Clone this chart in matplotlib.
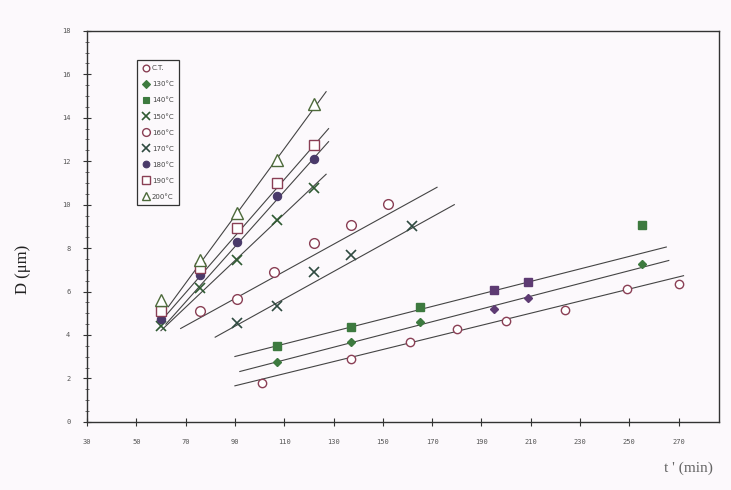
import numpy as np
import matplotlib
matplotlib.use('Agg')
import matplotlib.pyplot as plt
from matplotlib.lines import Line2D

# data: t' (min) vs D (um)
labels = ['C.T.', '130°C', '140°C', '150°C', '160°C', '170°C', '180°C', '190°C', '200°C']

t_ct = [101, 137, 161, 180, 200, 224, 249, 270]
d_ct = [1.81, 2.89, 3.69, 4.27, 4.64, 5.15, 6.14, 6.37]
t_130 = [107, 137, 165, 195, 209, 255]
d_130 = [2.75, 3.66, 4.58, 5.21, 5.71, 7.27]
t_140 = [107, 137, 165, 195, 209, 255]
d_140 = [3.50, 4.39, 5.27, 6.05, 6.45, 9.05]
t_150 = [60, 76, 91, 107, 122]
d_150 = [4.4, 6.16, 7.46, 9.3, 10.77]
t_160 = [76, 91, 106, 122, 137, 152]
d_160 = [5.1, 5.65, 6.9, 8.25, 9.05, 10.05]
t_170 = [91, 107, 122, 137, 162]
d_170 = [4.55, 5.35, 6.9, 7.7, 9.0]
t_180 = [60, 76, 91, 107, 122]
d_180 = [4.75, 6.77, 8.3, 10.38, 12.1]
t_190 = [60, 76, 91, 107, 122]
d_190 = [5.1, 7.1, 8.92, 11.0, 12.76]
t_200 = [60, 76, 91, 107, 122]
d_200 = [5.62, 7.47, 9.62, 12.07, 14.65]

# fitted lines as drawn (start / end points)
fit_t = [[90, 272], [92, 266], [90, 265], [60, 127], [68, 172], [82, 179], [62, 128], [62, 128], [63, 127]]
fit_d = [[1.66, 6.73], [2.32, 7.43], [3.01, 8.05], [4.2, 11.4], [4.3, 10.8], [3.9, 10.0], [4.5, 12.9], [4.9, 13.5], [5.3, 15.2]]

series = [(t_ct, d_ct), (t_130, d_130), (t_140, d_140), (t_150, d_150), (t_160, d_160),
          (t_170, d_170), (t_180, d_180), (t_190, d_190), (t_200, d_200)]

green = '#3d7a3f'
purple = '#5e3b73'
maroon = '#8a3f55'
styles = [
    dict(marker='o', mfc='white', mec=maroon, ms=6, mew=1.0),
    dict(marker='D', mfc=green, mec=green, ms=4.5, mew=0.8),
    dict(marker='s', mfc=green, mec=green, ms=6, mew=0.8),
    dict(marker='x', mfc='none', mec='#2f5a32', ms=7, mew=1.2),
    dict(marker='o', mfc='white', mec=maroon, ms=7, mew=1.0),
    dict(marker='x', mfc='none', mec='#2f4a40', ms=7, mew=1.2),
    dict(marker='o', mfc='#4a3a6a', mec='#4a3a6a', ms=6, mew=0.8),
    dict(marker='s', mfc='white', mec=maroon, ms=7, mew=1.0),
    dict(marker='^', mfc='white', mec='#4d6a3a', ms=8, mew=1.0),
]

bg = '#fcf9fc'
fig = plt.figure(figsize=(7.31, 4.90), dpi=100, facecolor=bg)
ax = fig.add_axes([0.119, 0.139, 0.865, 0.798], facecolor=bg)

for i in range(len(series)):
    ax.plot(fit_t[i], fit_d[i], color='#444444', lw=0.8, zorder=2)

for i, (t, d) in enumerate(series):
    st = dict(styles[i])
    # scan shows later filled points in purple
    if i in (1, 2):
        for x, y in zip(t, d):
            c = green if x < 180 or x > 240 else purple
            ax.plot(x, y, ls='none', marker=st['marker'], ms=st['ms'], mfc=c, mec=c, zorder=3)
    else:
        ax.plot(t, d, ls='none', zorder=3, **st)

ax.set_xlim(30, 286.5)
ax.set_ylim(0, 18)
ax.set_xticks(range(30, 271, 20))
ax.set_yticks(range(0, 19, 2))
ax.set_yticks(np.arange(0, 18, 0.5), minor=True)
ax.tick_params(axis='both', which='major', direction='inout', length=6, width=0.8,
               labelsize=5, labelcolor='#555555', color='#333333', pad=9)
ax.tick_params(axis='y', which='minor', direction='inout', length=2.5, width=0.6, color='#555555')
for lab in ax.get_xticklabels() + ax.get_yticklabels():
    lab.set_family('DejaVu Sans Mono')
for sp in ax.spines.values():
    sp.set_color('#333333')
    sp.set_linewidth(1.0)

fig.text(0.032, 0.45, 'D (μm)', family='Liberation Serif', fontsize=12, color='#222222',
         rotation=90, ha='center', va='center')
fig.text(0.975, 0.045, "t ' (min)", family='Liberation Serif', fontsize=11,
         color='#666666', ha='right', va='center')

handles = [Line2D([], [], ls='none', **styles[i]) for i in range(len(labels))]
leg = ax.legend(handles, labels, loc='upper left', bbox_to_anchor=(0.074, 0.935),
                fontsize=5, labelspacing=1.45, handletextpad=0.3, handlelength=1.0,
                borderpad=0.8, fancybox=False, edgecolor='#333333', framealpha=1,
                facecolor=bg, markerscale=0.8)
leg.get_frame().set_linewidth(0.9)
for tx in leg.get_texts():
    tx.set_color('#444444')

fig.savefig('out.png', dpi=100, facecolor=bg)
